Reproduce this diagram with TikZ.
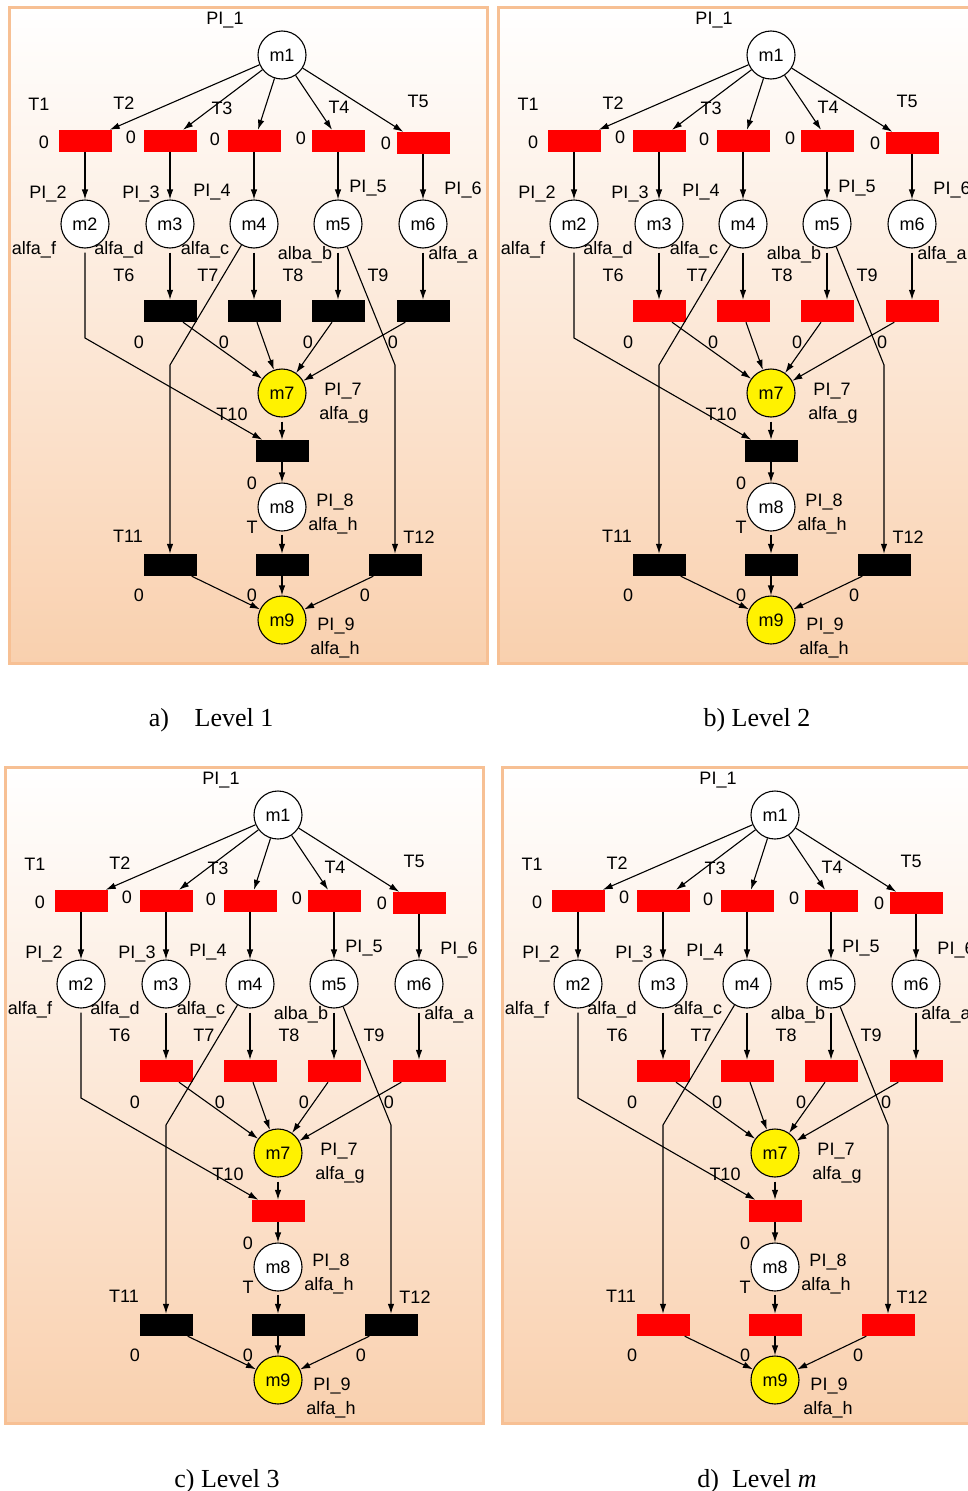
\documentclass[tikz,border=0pt]{standalone}
\usepackage{fontspec}
\setmainfont{Liberation Sans}
\newfontfamily\capfont{Liberation Serif}
\usetikzlibrary{arrows.meta,calc}
\definecolor{framec}{RGB}{247,192,148}
\definecolor{topc}{RGB}{255,255,255}
\definecolor{botc}{RGB}{249,208,174}
\definecolor{tred}{RGB}{255,0,0}
\tikzset{
 pnplace/.style={circle,draw,line width=1.1pt,minimum size=48pt,inner sep=0pt,fill=white,font=\fontsize{18}{18}\selectfont},
 pnhot/.style={pnplace,fill=yellow},
 pntrans/.style={rectangle,minimum width=53pt,minimum height=22pt,inner sep=0pt,draw=none},
 pnlbl/.style={inner sep=0pt,font=\fontsize{18}{18}\selectfont},
 pnarc/.style={line width=1.1pt,-{Latex[length=10pt,width=6.5pt]}},
 pnframe/.style={draw=framec,line width=3pt,top color=topc,bottom color=botc},
 captxt/.style={font=\capfont\fontsize{26}{26}\selectfont,inner sep=0pt,anchor=base},
}
% #1,#2 shift; #3 prefix; #4 T1-T5 colour; #5 T6-T9; #6 T10; #7 T11-T13
\newcommand{\petrinet}[7]{%
\begin{scope}[shift={(#1,#2)}]
\path[pnframe] (9,7) rectangle (487,663);
% places
\node[pnplace] (#3m1) at (282,55) {m1};
\node[pnplace] (#3m2) at (85,224) {m2};
\node[pnplace] (#3m3) at (170,224) {m3};
\node[pnplace] (#3m4) at (254,224) {m4};
\node[pnplace] (#3m5) at (338,224) {m5};
\node[pnplace] (#3m6) at (423,224) {m6};
\node[pnhot]   (#3m7) at (282,393) {m7};
\node[pnplace] (#3m8) at (282,507) {m8};
\node[pnhot]   (#3m9) at (282,620) {m9};
% transitions
\node[pntrans,fill=#4] (#3T1) at (85,141) {};
\node[pntrans,fill=#4] (#3T2) at (170,141) {};
\node[pntrans,fill=#4] (#3T3) at (254,141) {};
\node[pntrans,fill=#4] (#3T4) at (338,141) {};
\node[pntrans,fill=#4] (#3T5) at (423,143) {};
\node[pntrans,fill=#5] (#3T6) at (170,311) {};
\node[pntrans,fill=#5] (#3T7) at (254,311) {};
\node[pntrans,fill=#5] (#3T8) at (338,311) {};
\node[pntrans,fill=#5] (#3T9) at (423,311) {};
\node[pntrans,fill=#6] (#3T10) at (282,451) {};
\node[pntrans,fill=#7] (#3T11) at (170,565) {};
\node[pntrans,fill=#7] (#3T13) at (282,565) {};
\node[pntrans,fill=#7] (#3T12) at (395,565) {};
% bend points
\coordinate (#3b2) at (85,338);
\coordinate (#3b4) at (170,365);
\coordinate (#3b5) at (395,365);
% arcs
\draw[pnarc] (#3m1) -- ($(#3T1.north east)+(-2,0)$);
\draw[pnarc] (#3m1) -- ($(#3T2.north)+(13,0)$);
\draw[pnarc] (#3m1) -- ($(#3T3.north)+(4,0)$);
\draw[pnarc] (#3m1) -- ($(#3T4.north)+(-6,0)$);
\draw[pnarc] (#3m1) -- ($(#3T5.north west)+(7,0)$);
\draw[pnarc] (#3T1) -- (#3m2);
\draw[pnarc] (#3T2) -- (#3m3);
\draw[pnarc] (#3T3) -- (#3m4);
\draw[pnarc] (#3T4) -- (#3m5);
\draw[pnarc] (#3T5) -- (#3m6);
\draw[pnarc,shorten <=4pt] (#3m3) -- (#3T6);
\draw[pnarc,shorten <=4pt] (#3m4) -- (#3T7);
\draw[pnarc,shorten <=4pt] (#3m5) -- (#3T8);
\draw[pnarc,shorten <=4pt] (#3m6) -- (#3T9);
\draw[pnarc,shorten <=4pt] (#3m2.south) -- (#3b2) -- ($(#3T10.north west)+(7,0)$);
\draw[pnarc] (#3m4) -- (#3b4) -- (#3T11);
\draw[pnarc] (#3m5) -- (#3b5) -- (#3T12);
\draw[pnarc] ($(#3T6.south)+(13,0)$) -- (#3m7);
\draw[pnarc] ($(#3T7.south)+(3,0)$) -- (#3m7);
\draw[pnarc] ($(#3T8.south)+(-6,0)$) -- (#3m7);
\draw[pnarc] ($(#3T9.south west)+(9,0)$) -- (#3m7);
\draw[pnarc,shorten <=4pt] (#3m7) -- (#3T10);
\draw[pnarc] (#3T10) -- (#3m8);
\draw[pnarc,shorten <=3pt] (#3m8) -- (#3T13);
\draw[pnarc] (#3T13) -- (#3m9);
\draw[pnarc] ($(#3T11.south east)+(-5,0)$) -- (#3m9);
\draw[pnarc] ($(#3T12.south west)+(5,0)$) -- (#3m9);
% labels
\node[pnlbl] (#3lp1) at (225,20) {PI\_1};
\node[pnlbl] (#3lt1) at (39,104) {T1};
\node[pnlbl] (#3lt2) at (124,103) {T2};
\node[pnlbl] (#3lt3) at (222,108) {T3};
\node[pnlbl] (#3lt4) at (339,107) {T4};
\node[pnlbl] (#3lt5) at (418,101) {T5};
\node[pnlbl] (#3lz1) at (44,142) {0};
\node[pnlbl] (#3lz2) at (131,137) {0};
\node[pnlbl] (#3lz3) at (215,139) {0};
\node[pnlbl] (#3lz4) at (301,138) {0};
\node[pnlbl] (#3lz5) at (386,143) {0};
\node[pnlbl] (#3lp2) at (48,194) {PI\_2};
\node[pnlbl] (#3lp3) at (141,194) {PI\_3};
\node[pnlbl] (#3lp4) at (212,192) {PI\_4};
\node[pnlbl] (#3lp5) at (368,188) {PI\_5};
\node[pnlbl] (#3lp6) at (463,190) {PI\_6};
\node[pnlbl] (#3la2) at (34,250) {alfa\_f};
\node[pnlbl] (#3la3) at (119,250) {alfa\_d};
\node[pnlbl] (#3la4) at (205,250) {alfa\_c};
\node[pnlbl] (#3la5) at (305,255) {alba\_b};
\node[pnlbl] (#3la6) at (453,255) {alfa\_a};
\node[pnlbl] (#3lt6) at (124,275) {T6};
\node[pnlbl] (#3lt7) at (208,275) {T7};
\node[pnlbl] (#3lt8) at (293,275) {T8};
\node[pnlbl] (#3lt9) at (378,275) {T9};
\node[pnlbl] (#3lz6) at (139,342) {0};
\node[pnlbl] (#3lz7) at (224,342) {0};
\node[pnlbl] (#3lz8) at (308,342) {0};
\node[pnlbl] (#3lz9) at (393,342) {0};
\node[pnlbl] (#3lp7) at (343,391) {PI\_7};
\node[pnlbl] (#3la7) at (344,415) {alfa\_g};
\node[pnlbl] (#3lt10) at (232,414) {T10};
\node[pnlbl] (#3lz10) at (252,483) {0};
\node[pnlbl] (#3lp8) at (335,502) {PI\_8};
\node[pnlbl] (#3la8) at (333,526) {alfa\_h};
\node[pnlbl] (#3lt13) at (252,527) {T};
\node[pnlbl] (#3lt11) at (128,536) {T11};
\node[pnlbl] (#3lt12) at (419,537) {T12};
\node[pnlbl] (#3lz11) at (139,595) {0};
\node[pnlbl] (#3lz13) at (252,595) {0};
\node[pnlbl] (#3lz12) at (365,595) {0};
\node[pnlbl] (#3lp9) at (336,626) {PI\_9};
\node[pnlbl] (#3la9) at (335,650) {alfa\_h};
\end{scope}}
\begin{document}
\begin{tikzpicture}[x=1pt,y=-1pt]
\useasboundingbox (0,0) rectangle (968,1491);
\clip (0,0) rectangle (968,1491);
\petrinet{0}{0}{a}{tred}{black}{black}{black}
\petrinet{489}{0}{b}{tred}{tred}{black}{black}
\petrinet{-4}{760}{c}{tred}{tred}{tred}{black}
\petrinet{493}{760}{d}{tred}{tred}{tred}{tred}
\node[captxt] (capa1) at (159,726) {a)};
\node[captxt] (capa2) at (234,726) {Level 1};
\node[captxt] (capb) at (757,726) {b) Level 2};
\node[captxt] (capc) at (227,1487) {c) Level 3};
\node[captxt] (capd) at (757,1487) {d)\ \ Level \textit{m}};
\end{tikzpicture}
\end{document}
